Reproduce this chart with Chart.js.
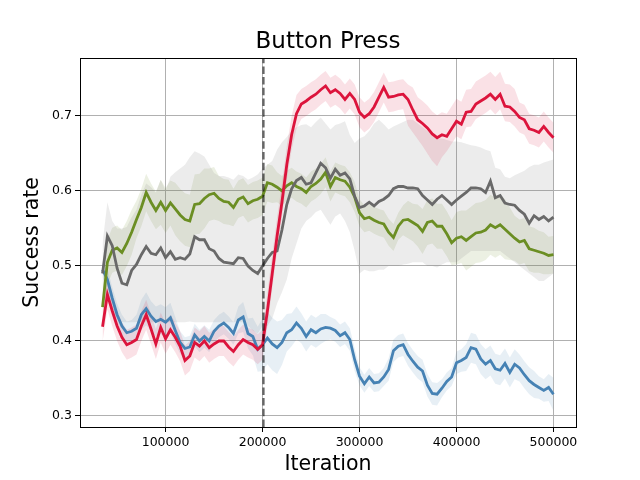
<!DOCTYPE html>
<html><head><meta charset="utf-8">
<script src="https://cdn.jsdelivr.net/npm/chart.js@4.4.0/dist/chart.umd.min.js"></script>
<style>html,body{margin:0;padding:0;background:#fff}</style>
</head><body>
<canvas id="c" width="640" height="480" style="width:640px;height:480px;display:block"></canvas>
<script>
const iterations = [35000,40000,45000,50000,55000,60000,65000,70000,75000,80000,
85000,90000,95000,100000,105000,110000,115000,120000,125000,130000,
135000,140000,145000,150000,155000,160000,165000,170000,175000,180000,
185000,190000,195000,200000,205000,210000,215000,220000,225000,230000,
235000,240000,245000,250000,255000,260000,265000,270000,275000,280000,
285000,290000,295000,300000,305000,310000,315000,320000,325000,330000,
335000,340000,345000,350000,355000,360000,365000,370000,375000,380000,
385000,390000,395000,400000,405000,410000,415000,420000,425000,430000,
435000,440000,445000,450000,455000,460000,465000,470000,475000,480000,
485000,490000,495000,500000];

const redMean = [0.419,0.462,0.44,0.42,0.405,0.395,0.398,0.402,0.42,0.435,
0.416,0.396,0.418,0.403,0.415,0.405,0.393,0.374,0.38,0.398,
0.393,0.40,0.391,0.396,0.40,0.40,0.392,0.386,0.395,0.402,
0.398,0.395,0.389,0.395,0.44,0.49,0.54,0.585,0.635,0.675,
0.703,0.716,0.72,0.725,0.729,0.735,0.74,0.731,0.735,0.73,
0.722,0.73,0.722,0.705,0.698,0.703,0.712,0.725,0.738,0.725,
0.726,0.728,0.729,0.722,0.708,0.695,0.69,0.684,0.676,0.671,
0.675,0.673,0.683,0.693,0.689,0.705,0.706,0.716,0.72,0.724,
0.729,0.722,0.729,0.713,0.712,0.706,0.698,0.695,0.683,0.681,
0.678,0.686,0.678,0.671];
const redUp = [0.02,0.02,0.02,0.02,0.02,0.02,0.02,0.02,0.02,0.02,
0.02,0.02,0.02,0.02,0.02,0.02,0.02,0.02,0.02,0.02,
0.02,0.02,0.02,0.02,0.02,0.02,0.02,0.02,0.02,0.02,
0.02,0.02,0.02,0.02,0.025,0.025,0.025,0.025,0.025,0.025,
0.025,0.02,0.02,0.02,0.02,0.02,0.02,0.02,0.02,0.02,
0.02,0.02,0.02,0.02,0.02,0.02,0.02,0.02,0.02,0.02,
0.02,0.02,0.02,0.02,0.03,0.03,0.03,0.03,0.03,0.03,
0.03,0.03,0.03,0.03,0.03,0.03,0.03,0.03,0.03,0.03,
0.03,0.03,0.03,0.03,0.03,0.03,0.02,0.02,0.02,0.02,
0.02,0.02,0.02,0.02];
const redDown = [0.02,0.02,0.02,0.02,0.02,0.02,0.02,0.02,0.02,0.02,
0.02,0.02,0.02,0.02,0.02,0.02,0.02,0.02,0.02,0.02,
0.02,0.02,0.02,0.02,0.02,0.02,0.02,0.02,0.02,0.02,
0.02,0.02,0.02,0.02,0.02,0.02,0.02,0.02,0.02,0.02,
0.02,0.02,0.02,0.02,0.02,0.02,0.02,0.02,0.02,0.02,
0.02,0.02,0.02,0.02,0.02,0.02,0.02,0.02,0.02,0.02,
0.02,0.02,0.02,0.035,0.03,0.026,0.03,0.034,0.036,0.038,
0.03,0.02,0.02,0.02,0.02,0.02,0.02,0.02,0.02,0.02,
0.02,0.02,0.02,0.02,0.02,0.02,0.02,0.02,0.02,0.02,
0.02,0.02,0.02,0.02];

const greyMean = [0.49,0.54,0.527,0.497,0.477,0.475,0.494,0.502,0.515,0.526,
0.517,0.515,0.524,0.511,0.519,0.509,0.511,0.509,0.516,0.539,
0.535,0.535,0.523,0.52,0.51,0.505,0.504,0.503,0.511,0.51,
0.50,0.494,0.49,0.50,0.51,0.518,0.52,0.548,0.582,0.603,
0.614,0.618,0.609,0.611,0.624,0.637,0.631,0.617,0.629,0.621,
0.624,0.616,0.593,0.578,0.58,0.585,0.58,0.586,0.589,0.594,
0.603,0.606,0.606,0.604,0.604,0.603,0.594,0.588,0.582,0.589,
0.594,0.588,0.582,0.588,0.593,0.598,0.604,0.604,0.603,0.598,
0.613,0.591,0.594,0.584,0.582,0.581,0.574,0.569,0.557,0.567,
0.562,0.566,0.56,0.565];
const greyUp = [0.04,0.045,0.033,0.053,0.073,0.077,0.071,0.073,0.08,0.084,
0.088,0.083,0.091,0.089,0.10,0.116,0.119,0.126,0.129,0.114,
0.115,0.111,0.112,0.104,0.11,0.115,0.114,0.112,0.111,0.11,
0.115,0.124,0.132,0.13,0.125,0.122,0.135,0.117,0.09,0.077,
0.071,0.07,0.08,0.074,0.068,0.061,0.059,0.065,0.059,0.069,
0.069,0.059,0.071,0.092,0.093,0.095,0.11,0.109,0.10,0.088,
0.083,0.083,0.086,0.091,0.091,0.087,0.091,0.092,0.093,0.081,
0.076,0.08,0.084,0.078,0.072,0.065,0.057,0.056,0.055,0.057,
0.04,0.04,0.035,0.035,0.035,0.04,0.05,0.058,0.075,0.068,
0.073,0.072,0.08,0.077];
const greyDown = [0.04,0.08,0.087,0.067,0.052,0.05,0.069,0.077,0.09,0.10,
0.092,0.09,0.099,0.086,0.094,0.084,0.086,0.084,0.09,0.114,
0.11,0.11,0.098,0.095,0.085,0.08,0.079,0.078,0.086,0.085,
0.08,0.08,0.08,0.08,0.09,0.088,0.07,0.083,0.10,0.093,
0.084,0.068,0.049,0.046,0.052,0.062,0.066,0.062,0.063,0.051,
0.064,0.071,0.073,0.088,0.085,0.092,0.087,0.091,0.094,0.094,
0.103,0.106,0.104,0.101,0.099,0.098,0.089,0.088,0.082,0.091,
0.092,0.083,0.077,0.083,0.083,0.083,0.084,0.084,0.083,0.078,
0.093,0.071,0.074,0.069,0.072,0.076,0.074,0.074,0.067,0.082,
0.082,0.086,0.075,0.075];

const greenMean = [0.445,0.505,0.521,0.524,0.518,0.53,0.545,0.562,0.578,0.598,
0.585,0.574,0.585,0.574,0.584,0.576,0.568,0.562,0.56,0.582,
0.583,0.59,0.595,0.597,0.59,0.586,0.585,0.578,0.589,0.592,
0.583,0.587,0.589,0.593,0.611,0.609,0.605,0.60,0.607,0.611,
0.606,0.603,0.598,0.606,0.61,0.616,0.625,0.606,0.618,0.615,
0.613,0.605,0.592,0.571,0.563,0.565,0.561,0.558,0.556,0.545,
0.538,0.553,0.561,0.562,0.558,0.554,0.546,0.558,0.56,0.553,
0.553,0.543,0.531,0.537,0.539,0.534,0.539,0.544,0.545,0.548,
0.555,0.551,0.555,0.549,0.543,0.537,0.532,0.534,0.523,0.521,
0.519,0.517,0.514,0.515];
const greenErr = [0.015,0.03,0.03,0.03,0.03,0.03,0.03,0.025,0.025,0.025,
0.025,0.025,0.03,0.03,0.03,0.035,0.035,0.035,0.035,0.04,
0.04,0.04,0.035,0.035,0.03,0.03,0.03,0.025,0.025,0.025,
0.025,0.025,0.025,0.025,0.025,0.025,0.02,0.02,0.02,0.02,
0.02,0.02,0.02,0.02,0.02,0.02,0.02,0.02,0.02,0.02,
0.02,0.02,0.02,0.018,0.018,0.018,0.018,0.018,0.018,0.018,
0.018,0.018,0.02,0.025,0.025,0.028,0.03,0.03,0.03,0.03,
0.03,0.03,0.03,0.035,0.035,0.04,0.04,0.04,0.04,0.04,
0.04,0.04,0.04,0.04,0.035,0.03,0.03,0.03,0.03,0.03,
0.028,0.028,0.025,0.025];

const blueMean = [0.495,0.482,0.457,0.435,0.42,0.411,0.413,0.417,0.435,0.443,
0.433,0.426,0.429,0.425,0.431,0.414,0.398,0.39,0.392,0.408,
0.40,0.406,0.40,0.413,0.42,0.424,0.418,0.41,0.428,0.432,
0.41,0.406,0.389,0.395,0.404,0.396,0.391,0.398,0.411,0.415,
0.424,0.417,0.406,0.415,0.411,0.416,0.418,0.417,0.414,0.407,
0.411,0.402,0.375,0.353,0.343,0.352,0.344,0.345,0.352,0.362,
0.387,0.393,0.395,0.382,0.373,0.365,0.36,0.341,0.33,0.329,
0.337,0.346,0.352,0.371,0.374,0.378,0.391,0.389,0.376,0.369,
0.374,0.363,0.361,0.37,0.358,0.369,0.364,0.355,0.347,0.342,
0.338,0.334,0.338,0.329];
const blueErr = [0.01,0.015,0.015,0.015,0.015,0.015,0.015,0.018,0.02,0.022,
0.02,0.02,0.02,0.02,0.02,0.018,0.015,0.015,0.015,0.015,
0.015,0.015,0.015,0.015,0.015,0.015,0.015,0.015,0.018,0.02,
0.02,0.025,0.03,0.035,0.035,0.035,0.035,0.03,0.025,0.022,
0.022,0.02,0.02,0.02,0.02,0.02,0.018,0.015,0.015,0.015,
0.015,0.015,0.015,0.012,0.012,0.012,0.012,0.012,0.012,0.015,
0.015,0.015,0.015,0.015,0.015,0.015,0.015,0.015,0.015,0.015,
0.012,0.012,0.012,0.015,0.015,0.018,0.02,0.02,0.02,0.02,
0.02,0.02,0.02,0.02,0.02,0.02,0.018,0.018,0.018,0.018,
0.015,0.015,0.018,0.022];

const xTicks = [100000, 200000, 300000, 400000, 500000];
const xTickLabels = ['100000', '200000', '300000', '400000', '500000'];
const yTicks = [0.3, 0.4, 0.5, 0.6, 0.7];
const yTickLabels = ['0.3', '0.4', '0.5', '0.6', '0.7'];
const switchIteration = 200000;

const FONT = "'DejaVu Sans', sans-serif";
const COLORS = {red: '220,20,60', grey: '105,105,105', green: '107,142,35', blue: '70,130,180'};

function pts(ys) { return iterations.map((x, i) => ({x: x, y: ys[i]})); }
function shifted(mean, d, sign) { return iterations.map((x, i) => ({x: x, y: mean[i] + sign * d[i]})); }

function lineDs(label, mean, c, order) {
  return {label: label, data: pts(mean), borderColor: 'rgb(' + c + ')', borderWidth: 2.8,
    pointRadius: 0, tension: 0, fill: false, order: order};
}
function bandDs(mean, up, down, c, lowerIndex) {
  return [
    {label: '', data: shifted(mean, down, -1), borderWidth: 0, pointRadius: 0, fill: false, order: 20},
    {label: '', data: shifted(mean, up, 1), borderWidth: 0, pointRadius: 0,
      backgroundColor: 'rgba(' + c + ',0.13)', fill: {target: lowerIndex}, order: 20}
  ];
}

const datasets = [
  lineDs('red', redMean, COLORS.red, 0),
  lineDs('grey', greyMean, COLORS.grey, 1),
  lineDs('green', greenMean, COLORS.green, 2),
  lineDs('blue', blueMean, COLORS.blue, 3),
  ...bandDs(redMean, redUp, redDown, COLORS.red, 4),
  ...bandDs(greyMean, greyUp, greyDown, COLORS.grey, 6),
  ...bandDs(greenMean, greenErr, greenErr, COLORS.green, 8),
  ...bandDs(blueMean, blueErr, blueErr, COLORS.blue, 10)
];

const framePlugin = {
  id: 'frame',
  afterDatasetsDraw(chart) {
    const {ctx, chartArea: a, scales} = chart;
    const x = Math.round(scales.x.getPixelForValue(switchIteration)) + 0.5;
    ctx.save();
    ctx.beginPath();
    ctx.rect(a.left, a.top, a.right - a.left, a.bottom - a.top);
    ctx.clip();
    ctx.strokeStyle = 'rgba(0,0,0,0.6)';
    ctx.lineWidth = 2.2;
    ctx.setLineDash([7.5, 3.2]);
    ctx.beginPath();
    ctx.moveTo(x, a.bottom);
    ctx.lineTo(x, a.top);
    ctx.stroke();
    ctx.restore();
    ctx.save();
    ctx.strokeStyle = '#000';
    ctx.lineWidth = 1;
    ctx.strokeRect(Math.round(a.left) + 0.5, Math.round(a.top) + 0.5,
      Math.round(a.right - a.left), Math.round(a.bottom - a.top));
    ctx.restore();
  }
};

new Chart(document.getElementById('c'), {
  type: 'line',
  data: {datasets: datasets},
  plugins: [framePlugin],
  options: {
    responsive: false,
    devicePixelRatio: 1,
    animation: false,
    layout: {padding: {left: 16, right: 0, top: 0, bottom: 0}},
    plugins: {
      legend: {display: false},
      tooltip: {enabled: false},
      filler: {drawTime: 'beforeDatasetsDraw', propagate: false},
      title: {display: true, text: 'Button Press', color: '#000',
        font: {family: FONT, size: 23, weight: 'normal'}, padding: {top: 28, bottom: 2.4}}
    },
    scales: {
      x: {
        type: 'linear', min: 11750, max: 523250,
        afterFit: (s) => { s.height = 53; },
        afterBuildTicks: (s) => { s.ticks = xTicks.map(v => ({value: v})); },
        ticks: {color: '#000', font: {family: FONT, size: 12.5}, padding: 3, maxRotation: 0,
          callback: (v) => xTickLabels[xTicks.indexOf(v)]},
        grid: {color: '#b0b0b0', lineWidth: 1, tickColor: '#000', tickLength: 5},
        border: {display: true, color: '#000', width: 1},
        title: {display: true, text: 'Iteration', color: '#000',
          font: {family: FONT, size: 20.5}, padding: {top: 0, bottom: 3}}
      },
      y: {
        type: 'linear', position: 'left', min: 0.2853, max: 0.7773,
        afterFit: (s) => { s.width = 64; },
        afterBuildTicks: (s) => { s.ticks = yTicks.map(v => ({value: v})); },
        ticks: {color: '#000', font: {family: FONT, size: 12.5}, padding: 3,
          callback: (v) => yTickLabels[yTicks.indexOf(v)]},
        grid: {color: '#b0b0b0', lineWidth: 1, tickColor: '#000', tickLength: 5},
        border: {display: true, color: '#000', width: 1},
        title: {display: true, text: 'Success rate', color: '#000',
          font: {family: FONT, size: 20.5}, padding: {top: 4, bottom: 0}}
      },
      yRight: {
        type: 'linear', position: 'right', display: true,
        afterFit: (s) => { s.width = 64; },
        ticks: {display: false},
        grid: {display: false, drawTicks: false},
        border: {display: false}
      }
    }
  }
});
</script>
</body></html>
